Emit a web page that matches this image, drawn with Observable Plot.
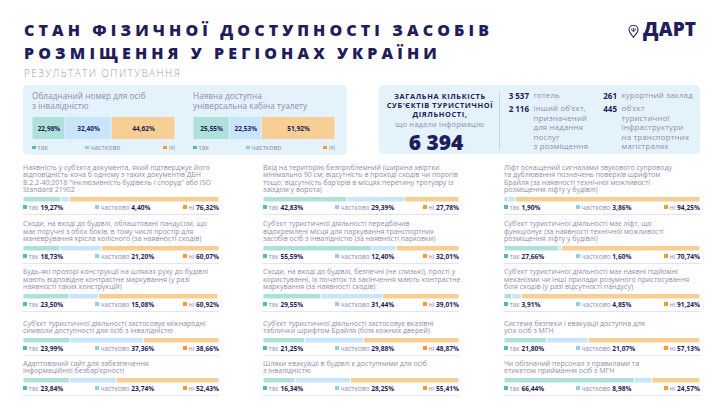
<!DOCTYPE html>
<html><head><meta charset="utf-8">
<script src="https://cdn.jsdelivr.net/npm/d3@7"></script>
<script src="https://cdn.jsdelivr.net/npm/@observablehq/plot@0.6"></script>
<style>
body{margin:0;background:#fff;}
#root{position:relative;width:724px;height:408px;overflow:hidden;font-family:"Open Sans",sans-serif;}
#root div{position:absolute;white-space:pre;}
#root svg{position:absolute;}
</style></head><body><div id="root"></div>
<script>
const NAVY="#1f1d5c", GRAY="#8f8dab";
const answers=["так","частково","ні"];
const barColors=["#aee1db","#c9e5fb","#f7ce93"];
const keyColors=["#4fbcaf","#8fcdf5","#f59b2c"];

const titleLines=["СТАН ФІЗИЧНОЇ ДОСТУПНОСТІ ЗАСОБІВ","РОЗМІЩЕННЯ У РЕГІОНАХ УКРАЇНИ"];
const subtitle="РЕЗУЛЬТАТИ ОПИТУВАННЯ";
const logoText="ДАРТ";

const boxTitles=["Обладнаний номер для осіб\nз інвалідністю","Наявна доступна\nуніверсальна кабіна туалету"];
const boxTak=[22.98,25.55];
const boxChast=[32.40,22.53];
const boxNi=[44.62,51.92];

const totalLabel=["ЗАГАЛЬНА КІЛЬКІСТЬ","СУБ’ЄКТІВ ТУРИСТИЧНОЇ","ДІЯЛЬНОСТІ,"];
const totalSub="що надали інформацію";
const totalValue="6 394";
const statValues=["3 537","2 116","261","445"];
const statLabels=["готель","інший об’єкт,\nпризначений\nдля надання\nпослуг\nз розміщення","курортний заклад","об’єкт\nтуристичної\nінфраструктури\nна транспортних\nмагістралях"];

const questions=[
"Наявність у суб’єкта документа, який підтверджує його\nвідповідність хоча б одному з таких документів ДБН\nВ.2.2-40:2018 \"Інклюзивність будівель і споруд\" або ISO\nStandard 21902",
"Сходи, на вході до будівлі, облаштовані пандусом, що\nмає поручні з обох боків, в тому числі простір для\nманеврування крісла колісного (за наявності сходів)",
"Будь-які прозорі конструкції на шляхах руху до будівлі\nмають відповідне контрастне маркування (у разі\nнаявності таких конструкцій)",
"Суб’єкт туристичної діяльності застосовує міжнародні\nсимволи доступності для осіб з інвалідністю",
"Адаптований сайт для забезпечення\nінформаційної безбар’єрності",
"Вхід на територію безпроблемний (ширина хвіртки\nмінімально 90 см; відсутність в проході сходів чи порогів\nтощо; відсутність бар’єрів в місцях перетину тротуару із\nзаїздом у ворота)",
"Суб’єкт туристичної діяльності передбачив\nвідокремлені місця для паркування транспортних\nзасобів осіб з інвалідністю (за наявності парковки)",
"Сходи, на вході до будівлі, безпечні (не слизькі), прості у\nкористуванні, їх початок та закінчення мають контрастне\nмаркування (за наявності сходів)",
"Суб’єкт туристичної діяльності застосовує вказівні\nтаблички шрифтом Брайля (біля кожних дверей)",
"Шляхи евакуації в будівлі є доступними для осіб\nз інвалідністю",
"Ліфт оснащений сигналами звукового супроводу\nта дублювання позначень поверхів шрифтом\nБрайля (за наявності технічної можливості\nрозміщення ліфту у будівлі)",
"Суб’єкт туристичної діяльності має ліфт, що\nфункціонує (за наявності технічної можливості\nрозміщення ліфту у будівлі)",
"Суб’єкт туристичної діяльності має наявні підйомні\nмеханізми чи інші прилади розумного пристосування\nбіля сходів (у разі відсутності пандусу)",
"Система безпеки і евакуації доступна для\nусіх осіб з МГН",
"Чи обізнаний персонал з правилами та\nетикетом приймання осіб з МГН"
];
const tak=[19.27,18.73,23.50,23.99,23.84,42.83,55.59,29.55,21.25,16.34,1.90,27.66,3.91,21.80,66.44];
const chastkovo=[4.40,21.20,15.08,37.36,23.74,29.39,12.40,31.44,29.88,28.25,3.86,1.60,4.85,21.07,8.98];
const ni=[76.32,60.07,60.92,38.66,52.43,27.78,32.01,39.01,48.87,55.41,94.25,70.74,91.24,57.13,24.57];

const root=document.getElementById("root");
const fmt=v=>v.toFixed(2).replace(".",",")+"%";
function el(html,css){const d=document.createElement("div");d.innerHTML=html;Object.assign(d.style,css);root.appendChild(d);return d;}
function bar(vals,x,y,w,h,labels){
  const data=vals.map((v,i)=>({k:answers[i],v}));
  const marks=[Plot.barX(data,Plot.stackX({x:"v",fill:"k",insetLeft:0.5,insetRight:0.5}))];
  if(labels) marks.push(Plot.text(data,Plot.stackX({x:"v",text:d=>fmt(d.v),fill:NAVY,fontWeight:700,fontSize:6.5})));
  const svg=Plot.plot({width:w,height:h,margin:0,x:{domain:[0,100],axis:null},y:{axis:null},
    color:{domain:answers,range:barColors},style:{background:"transparent",overflow:"visible",fontFamily:"Open Sans"},marks});
  svg.style.left=x+"px";svg.style.top=y+"px";svg.style.maxWidth="none";
  root.appendChild(svg);
}
const sq=i=>`<span style="display:inline-block;width:3.5px;height:3.5px;background:${keyColors[i]};margin-right:2px;vertical-align:middle;position:relative;top:-0.5px"></span>`;
function legend(x,cy,w,mid,vals,fs){
  const css={top:(cy-5)+"px",lineHeight:"10px",fontSize:fs+"px",color:GRAY};
  for(let i=0;i<3;i++){
    const v=vals?` <b style="color:${NAVY};font-weight:700">${fmt(vals[i])}</b>`:"";
    const h=sq(i)+answers[i]+v;
    if(i==0) el(h,{...css,left:x+"px"});
    else if(i==1) el(h,{...css,left:(x+mid)+"px"});
    else el(h,{...css,left:x+"px",width:w+"px",textAlign:"right"});
  }
}

// title
el(titleLines.join("\n"),{left:"24px",top:"18.5px",fontSize:"16px",lineHeight:"23px",fontWeight:"800",letterSpacing:"4.1px",color:NAVY});
el(subtitle,{left:"24px",top:"66px",fontSize:"10px",lineHeight:"14px",fontWeight:"300",letterSpacing:"1.4px",color:"#9c9ab8"});
// logo
el(`<svg width="11" height="13" viewBox="0 0 11 13" style="position:static"><path d="M5.5 12.3 C3 9 1 7 1 4.8 A4.5 4.5 0 0 1 10 4.8 C10 7 8 9 5.5 12.3Z" fill="none" stroke="${NAVY}" stroke-width="1.1"/><path d="M5.5 2.6v4M3.8 3.4v2.2q1.7 1.4 3.4 0V3.4" fill="none" stroke="${NAVY}" stroke-width="0.8"/></svg>`,{left:"628px",top:"21px"});
el(logoText,{left:"643px",top:"16.7px",fontSize:"19px",lineHeight:"24px",fontWeight:"800",color:NAVY,letterSpacing:"0.2px"});

// top-left box
el("",{left:"23px",top:"85px",width:"324px",height:"70px",background:"#e4f2fc",borderRadius:"5px"});
const bx=[32,193], bw=[143,142];
for(let b=0;b<2;b++){
  el(boxTitles[b],{left:bx[b]+"px",top:"91px",fontSize:"8.2px",lineHeight:"10px",letterSpacing:"0.05px",color:GRAY});
  bar([boxTak[b],boxChast[b],boxNi[b]],bx[b],117,bw[b],22,true);
  legend(bx[b],148,bw[b],53,null,6.8);
}
// top-right box
el("",{left:"379px",top:"85px",width:"321px",height:"69px",background:"#e4f2fc",borderRadius:"5px"});
el(totalLabel.join("\n"),{left:"379px",width:"122px",top:"91.5px",textAlign:"center",fontSize:"7.4px",lineHeight:"9px",fontWeight:"700",letterSpacing:"0.6px",color:NAVY});
el(totalSub,{left:"379px",width:"122px",top:"119px",textAlign:"center",fontSize:"7.4px",lineHeight:"10px",letterSpacing:"0.25px",color:GRAY});
el(totalValue,{left:"375px",width:"122px",top:"127.5px",textAlign:"center",fontSize:"21px",lineHeight:"28px",fontWeight:"800",color:NAVY});
el("",{left:"499px",top:"92px",width:"1px",height:"58px",background:"#c6d5e6"});
const sx=[529,529,617,617], sy=[96,109,96,109];
for(let i=0;i<4;i++){
  el(statValues[i],{left:(sx[i]-40)+"px",width:"40px",textAlign:"right",top:(sy[i]-5)+"px",fontSize:"8px",lineHeight:"10px",fontWeight:"700",color:NAVY});
  el(statLabels[i],{left:(sx[i]+4.5)+"px",top:(sy[i]-4.75)+"px",fontSize:"7.8px",lineHeight:"9.5px",letterSpacing:"0.2px",color:GRAY});
}

// question grid
const colX=[23,263,504], colW=196, barTop=[197,246,294,338,378];
questions.forEach((q,i)=>{
  const c=Math.floor(i/5), r=i%5, x=colX[c], y=barTop[r];
  el(q,{left:x+"px",bottom:(408-(y-3.5))+"px",fontSize:"7px",lineHeight:"7.5px",color:GRAY});
  bar([tak[i],chastkovo[i],ni[i]],x,y,colW,4.5,false);
  legend(x,y+10.5,colW,72,[tak[i],chastkovo[i],ni[i]],6.6);
  el("",{left:x+"px",top:(y+16.5)+"px",width:colW+"px",height:"0",borderTop:"1px solid #e4e4ee"});
});
</script></body></html>
